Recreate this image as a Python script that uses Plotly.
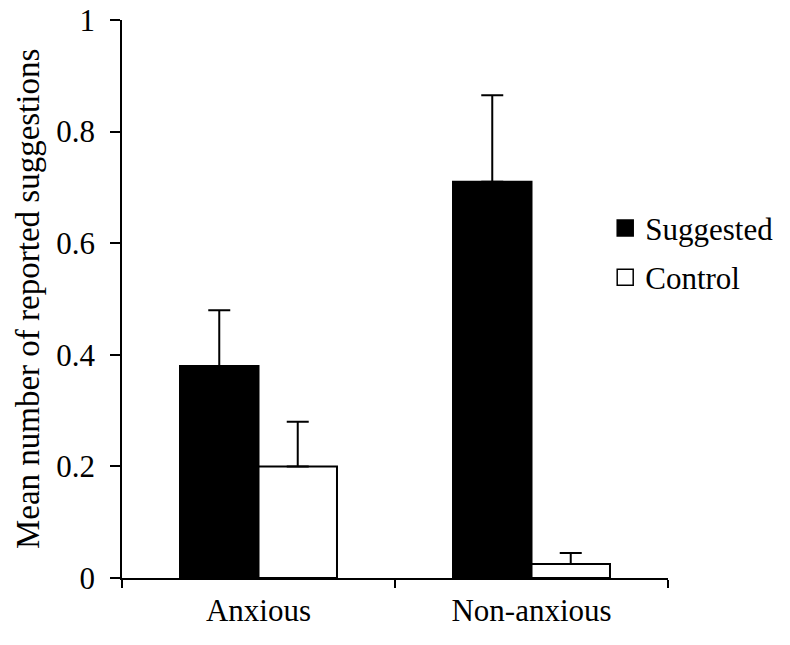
import plotly.graph_objects as go

categories = ["Anxious", "Non-anxious"]
suggested = [0.38, 0.71]
suggested_err = [0.10, 0.155]
control = [0.20, 0.025]
control_err = [0.08, 0.02]
y_ticks = [0, 0.2, 0.4, 0.6, 0.8, 1]
y_ticklabels = ["0", "0.2", "0.4", "0.6", "0.8", "1"]
y_title = "Mean number of reported suggestions"

FONT = "Liberation Serif"

fig = go.Figure()
fig.add_trace(go.Bar(
    x=categories, y=suggested, name="Suggested", showlegend=False,
    marker=dict(color="black", line=dict(color="black", width=2)),
    error_y=dict(type="data", array=suggested_err, arrayminus=[0, 0], symmetric=False,
                 color="black", thickness=2, width=11),
))
fig.add_trace(go.Bar(
    x=categories, y=control, name="Control", showlegend=False,
    marker=dict(color="white", line=dict(color="black", width=2)),
    error_y=dict(type="data", array=control_err, arrayminus=[0, 0], symmetric=False,
                 color="black", thickness=2, width=11),
))
# legend entries
fig.add_trace(go.Scatter(
    x=[None], y=[None], mode="markers", name="Suggested", legendgroup="a",
    marker=dict(symbol="square", size=18, color="black", line=dict(color="black", width=1.5)),
))
fig.add_trace(go.Scatter(
    x=[None], y=[None], mode="markers", name="Control", legendgroup="b",
    marker=dict(symbol="square", size=18, color="white", line=dict(color="black", width=1.5)),
))

fig.update_layout(
    width=790, height=645,
    margin=dict(l=122, r=122, t=20, b=67),
    paper_bgcolor="white", plot_bgcolor="white",
    font=dict(family=FONT, size=31, color="black"),
    barmode="group", bargap=0.425, bargroupgap=0,
    legend=dict(x=0.885, y=0.675, xanchor="left", yanchor="top",
                xref="paper", yref="paper",
                traceorder="grouped", tracegroupgap=6,
                font=dict(family=FONT, size=31, color="black"),
                bgcolor="rgba(0,0,0,0)", itemclick=False),
    annotations=[dict(text=y_title, textangle=-90, xref="paper", yref="paper",
                      x=-0.172, y=0.5, xanchor="center", yanchor="middle",
                      showarrow=False, font=dict(family=FONT, size=33, color="black"))],
)
fig.update_xaxes(
    type="category", range=[-0.5, 1.5], automargin=False,
    showline=True, linecolor="black", linewidth=1.5,
    ticks="outside", tickson="boundaries", ticklen=8, tickcolor="black", tickwidth=1.5,
    showgrid=False, zeroline=False, ticklabelstandoff=4,
)
fig.update_yaxes(
    range=[0, 1], tickvals=y_ticks, ticktext=y_ticklabels, automargin=False,
    showline=True, linecolor="black", linewidth=1.5,
    ticks="outside", ticklen=10, tickcolor="black", tickwidth=1.5,
    showgrid=False, zeroline=False, ticklabelstandoff=9,
)

fig.write_html("out.html")
